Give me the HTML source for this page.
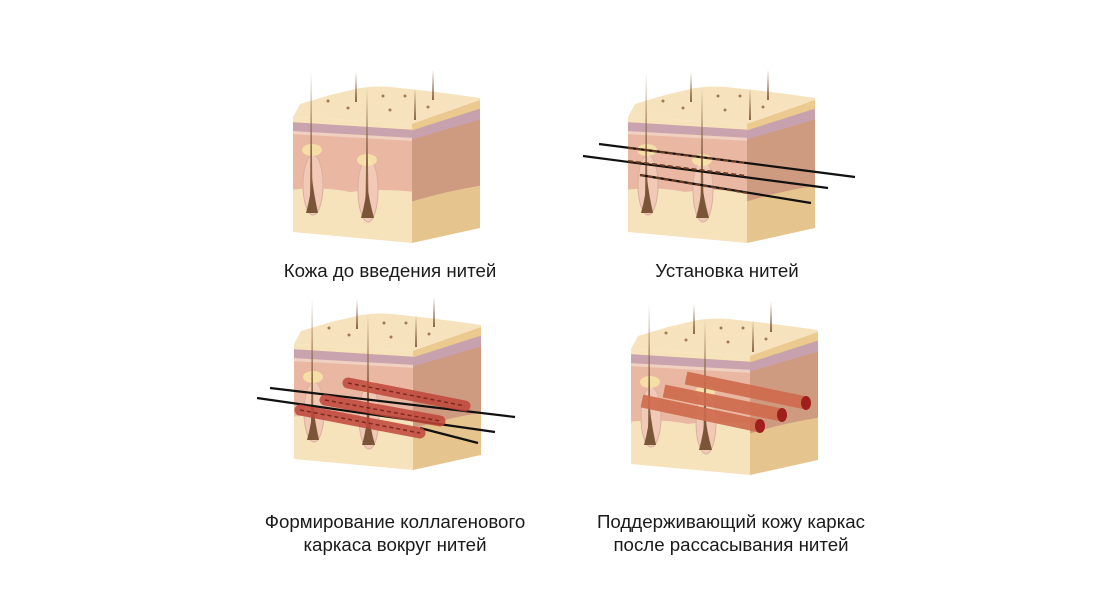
<!DOCTYPE html>
<html><head><meta charset="utf-8"><style>
html,body{margin:0;padding:0;background:#fff;}
svg{display:block}
text{font-family:"Liberation Sans",sans-serif;font-size:18.7px;fill:#1a1a1a;text-anchor:middle}
</style></head><body>
<svg width="1100" height="599" viewBox="0 0 1100 599" xmlns="http://www.w3.org/2000/svg">
<defs>
<clipPath id="fc"><polygon points="293,117 412,124 412,243 293,232"/></clipPath>
<clipPath id="sc"><polygon points="412,124 480,100 480,228 412,243"/></clipPath>
<g id="cube">
  <path d="M293,117 L300,104 Q320,98 330,95 L360,88 Q380,85 400,88 Q440,92 480,98 L480,100 L412,124 Z" fill="#f6e3bd"/>
  <g clip-path="url(#fc)">
    <rect x="290" y="110" width="125" height="140" fill="#f6e2bb"/>
    <path d="M290,122 L415,130 L415,192 Q380,188 350,192 Q320,186 290,190 Z" fill="#eab8a2"/>
    <path d="M290,122 L415,130 L415,138 L290,131 Z" fill="#c9a3ad"/>
    <path d="M290,131 L415,138 L415,141 L290,134 Z" fill="#f0d0c0"/>
    <ellipse cx="313" cy="185" rx="10" ry="30" fill="#f1c9b6" stroke="#d9b0a0"/>
    <ellipse cx="368" cy="190" rx="10" ry="32" fill="#f1c9b6" stroke="#d9b0a0"/>
    <ellipse cx="312" cy="150" rx="10" ry="6" fill="#f7e8a8" opacity=".8"/>
    <ellipse cx="367" cy="160" rx="10" ry="6" fill="#f7e8a8" opacity=".8"/>
  </g>
  <g clip-path="url(#sc)">
    <rect x="410" y="95" width="75" height="150" fill="#e6c48d"/>
    <path d="M410,126 L485,100 L485,185 Q450,190 410,202 Z" fill="#cf9b80"/>
    <path d="M410,126 L485,101 L485,118 L410,140 Z" fill="#c7a2ae"/>
    <path d="M410,124 L485,99 L485,107 L410,131 Z" fill="#ecc98e"/>
  </g>
  <path d="M310,200 L311,72 L312.5,200 Z" fill="#8a6546"/>
  <path d="M306,213 Q311,195 312,178 Q314,195 318,213 Z" fill="#7a5538"/>
  <path d="M365.5,205 L367,88 L368.5,205 Z" fill="#8a6546"/>
  <path d="M361,218 Q366,200 367,183 Q369,200 374,218 Z" fill="#7a5538"/>
  <path d="M355,102 L356,72 L357,102 Z" fill="#8a6546"/>
  <path d="M414,120 L415,88 L416,120 Z" fill="#8a6546"/>
  <path d="M432,100 L433,70 L434,100 Z" fill="#8a6546"/>
  <g fill="#a07a55"><circle cx="328" cy="101" r="1.5"/><circle cx="383" cy="96" r="1.5"/><circle cx="405" cy="96" r="1.5"/><circle cx="348" cy="108" r="1.5"/><circle cx="390" cy="110" r="1.5"/><circle cx="428" cy="107" r="1.5"/></g>
</g>
</defs>

<use href="#cube"/>
<use href="#cube" transform="translate(335,0)"/>
<use href="#cube" transform="translate(1,227)"/>
<use href="#cube" transform="translate(338,232)"/>

<g stroke="#111" stroke-width="2.2">
  <line x1="599" y1="144" x2="855" y2="177"/>
  <line x1="583" y1="156" x2="828" y2="188"/>
  <line x1="640" y1="175" x2="811" y2="203"/>
</g>
<g stroke="#6b3a20" stroke-width="2" stroke-dasharray="5,3">
  <line x1="628" y1="148" x2="747" y2="163"/>
  <line x1="628" y1="161" x2="747" y2="176"/>
  <line x1="640" y1="175" x2="747" y2="193"/>
</g>

<g stroke="#111" stroke-width="2.2">
  <line x1="270" y1="388" x2="515" y2="417"/>
  <line x1="257" y1="398" x2="495" y2="432"/>
  <line x1="420" y1="428" x2="478" y2="443"/>
</g>
<g stroke-linecap="round" opacity=".85">
  <line x1="348" y1="383" x2="465" y2="406" stroke="#c0463a" stroke-width="11"/>
  <line x1="325" y1="400" x2="440" y2="421" stroke="#c0463a" stroke-width="11"/>
  <line x1="300" y1="410" x2="420" y2="433" stroke="#c0463a" stroke-width="11"/>
</g>
<g stroke="#7a2a20" stroke-width="1.5" stroke-dasharray="4,3">
  <line x1="348" y1="383" x2="465" y2="406"/>
  <line x1="325" y1="400" x2="440" y2="421"/>
  <line x1="300" y1="410" x2="420" y2="433"/>
</g>

<g stroke-linecap="butt">
  <line x1="686" y1="378" x2="806" y2="403" stroke="#cf6a4c" stroke-width="13" opacity=".9"/>
  <line x1="664" y1="391" x2="782" y2="415" stroke="#cf6a4c" stroke-width="13" opacity=".9"/>
  <line x1="642" y1="401" x2="760" y2="426" stroke="#cf6a4c" stroke-width="13" opacity=".9"/>
</g>
<g fill="#9e1f1c">
  <ellipse cx="806" cy="403" rx="5" ry="7"/>
  <ellipse cx="782" cy="415" rx="5" ry="7"/>
  <ellipse cx="760" cy="426" rx="5" ry="7"/>
</g>

<text x="390" y="277">Кожа до введения нитей</text>
<text x="727" y="277">Установка нитей</text>
<text x="395" y="528">Формирование коллагенового</text>
<text x="395" y="551">каркаса вокруг нитей</text>
<text x="731" y="528">Поддерживающий кожу каркас</text>
<text x="731" y="551">после рассасывания нитей</text>
</svg>
</body></html>
